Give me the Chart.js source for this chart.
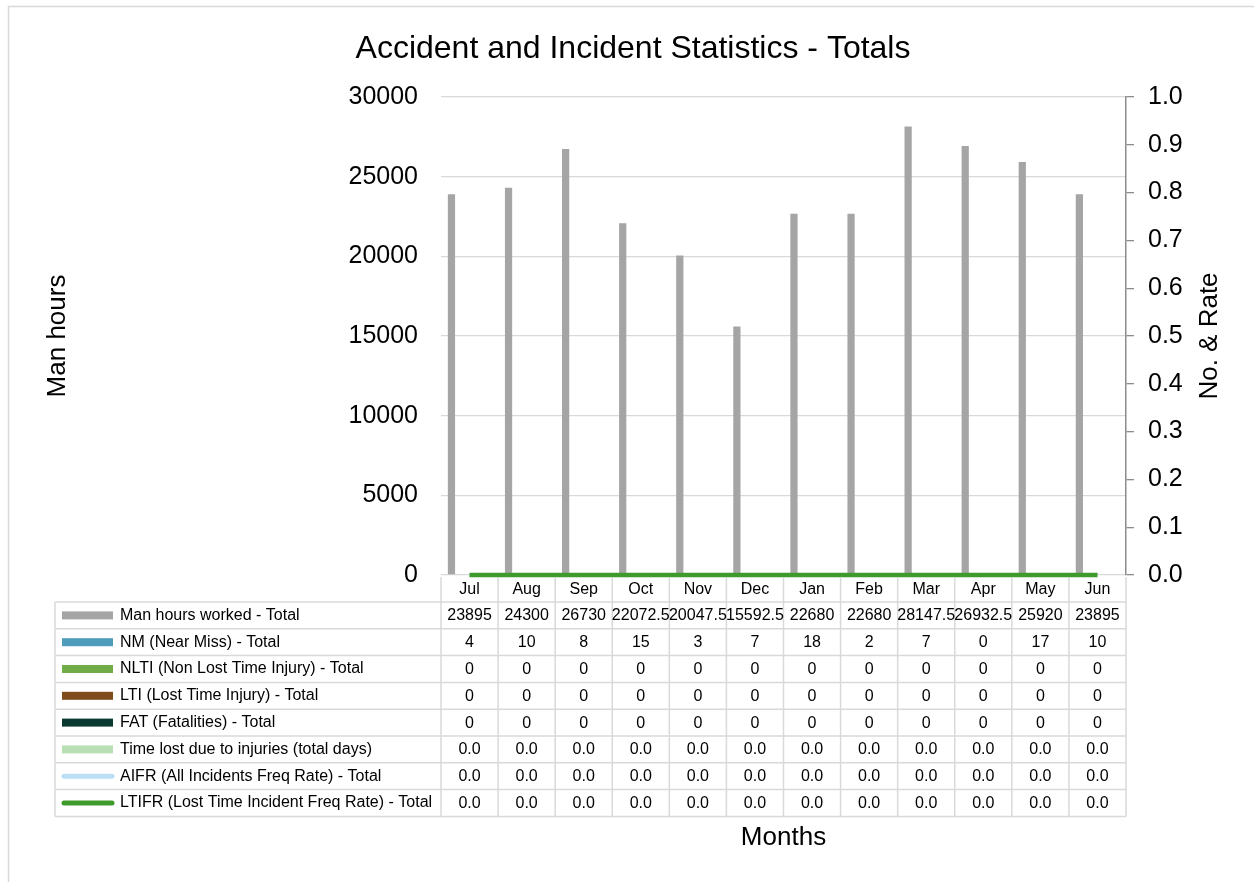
<!DOCTYPE html>
<html>
<head>
<meta charset="utf-8">
<script src="https://cdn.jsdelivr.net/npm/chart.js@4/dist/chart.umd.min.js"></script>
<style>
  html, body { margin: 0; padding: 0; background: #fff; overflow: hidden; }
  canvas { display: block; }
</style>
</head>
<body>
<canvas id="chart" width="1254" height="882"></canvas>
<script>
// chart values
const months = ['Jul', 'Aug', 'Sep', 'Oct', 'Nov', 'Dec', 'Jan', 'Feb', 'Mar', 'Apr', 'May', 'Jun']
const manHours = [23895, 24300, 26730, 22072.5, 20047.5, 15592.5, 22680, 22680, 28147.5, 26932.5, 25920, 23895]
const nearMiss = [4, 10, 8, 15, 3, 7, 18, 2, 7, 0, 17, 10]
const nlti = [0, 0, 0, 0, 0, 0, 0, 0, 0, 0, 0, 0]
const lti = [0, 0, 0, 0, 0, 0, 0, 0, 0, 0, 0, 0]
const fat = [0, 0, 0, 0, 0, 0, 0, 0, 0, 0, 0, 0]
const timeLost = [0, 0, 0, 0, 0, 0, 0, 0, 0, 0, 0, 0]
const aifr = [0, 0, 0, 0, 0, 0, 0, 0, 0, 0, 0, 0]
const ltifr = [0, 0, 0, 0, 0, 0, 0, 0, 0, 0, 0, 0]
const manHourTicks = [0, 5000, 10000, 15000, 20000, 25000, 30000]

const FONT = "'Liberation Sans', Arial, sans-serif"
Chart.defaults.font.family = FONT
Chart.defaults.color = '#000'

const int = v => String(v)
const oneDp = v => v.toFixed(1)

// outer frame, right axis title and the data table under the plot
const dataTable = {
  id: 'dataTable',
  beforeDraw(chart) {
    const ctx = chart.ctx
    ctx.save()
    ctx.strokeStyle = '#d9d9d9'
    ctx.lineWidth = 1.5
    ctx.strokeRect(8.5, 6.5, 1400, 1000)
    ctx.restore()
  },
  afterDraw(chart) {
    const { ctx, chartArea } = chart
    const x = chart.scales.x
    const colW = x.getPixelForValue(1) - x.getPixelForValue(0)
    const headTop = chartArea.bottom + 2
    const rowTop = headTop + 25
    const rowH = 26.8
    const labelLeft = 55
    const sets = chart.data.datasets
    const bottom = rowTop + rowH * sets.length

    ctx.save()
    ctx.strokeStyle = '#d9d9d9'
    ctx.lineWidth = 1.5
    ctx.beginPath()
    for (let r = 0; r <= sets.length; r++) {
      ctx.moveTo(labelLeft, rowTop + r * rowH)
      ctx.lineTo(chartArea.right, rowTop + r * rowH)
    }
    ctx.moveTo(labelLeft, rowTop)
    ctx.lineTo(labelLeft, bottom)
    for (let i = 0; i <= months.length; i++) {
      const xx = chartArea.left + i * colW
      ctx.moveTo(xx, headTop)
      ctx.lineTo(xx, bottom)
    }
    ctx.stroke()

    ctx.fillStyle = '#000'
    ctx.font = '16px ' + FONT
    ctx.textBaseline = 'middle'
    ctx.textAlign = 'center'
    months.forEach((m, i) => {
      ctx.fillText(m, x.getPixelForValue(i), headTop + 13)
    })

    sets.forEach((ds, r) => {
      const cy = rowTop + r * rowH + rowH / 2
      // legend key
      if (ds.type === 'line') {
        ctx.strokeStyle = ds.borderColor
        ctx.lineWidth = 5
        ctx.lineCap = 'round'
        ctx.beginPath()
        ctx.moveTo(64, cy)
        ctx.lineTo(112, cy)
        ctx.stroke()
      } else {
        ctx.fillStyle = ds.keyColor
        ctx.fillRect(62, cy - 4, 51, 8)
      }
      ctx.fillStyle = '#000'
      ctx.textAlign = 'left'
      ctx.fillText(ds.label, 120, cy)
      ctx.textAlign = 'center'
      ds.data.forEach((v, i) => {
        ctx.fillText(ds.fmt(v), x.getPixelForValue(i), cy + 0.5)
      })
    })

    ctx.font = '26px ' + FONT
    ctx.fillText('Months', (chartArea.left + chartArea.right) / 2, 838)

    // right axis title reads bottom to top, like the left one
    const y1 = chart.scales.y1
    ctx.translate(1210, (y1.top + y1.bottom) / 2)
    ctx.rotate(-Math.PI / 2)
    ctx.fillText('No. & Rate', 0, 0)
    ctx.restore()
  }
}

const bar = (label, data, color, axis, fmt, keyColor) => ({
  type: 'bar', label, data, backgroundColor: color, yAxisID: axis,
  fmt, keyColor: keyColor || color, order: 2
})

new Chart(document.getElementById('chart'), {
  data: {
    labels: months,
    datasets: [
      bar('Man hours worked - Total', manHours, '#a5a5a5', 'y', int),
      bar('NM (Near Miss) - Total', nearMiss, 'transparent', 'y1', int, '#4f9bbb'),
      bar('NLTI (Non Lost Time Injury) - Total', nlti, '#70ad47', 'y1', int),
      bar('LTI (Lost Time Injury) - Total', lti, '#7f4a1c', 'y1', int),
      bar('FAT (Fatalities) - Total', fat, '#0b3a31', 'y1', int),
      bar('Time lost due to injuries (total days)', timeLost, '#b8e0b4', 'y1', oneDp),
      {
        type: 'line', label: 'AIFR (All Incidents Freq Rate) - Total', data: aifr,
        borderColor: '#bddff4', borderWidth: 4, pointRadius: 0, yAxisID: 'y1',
        fmt: oneDp, clip: false, order: 1
      },
      {
        type: 'line', label: 'LTIFR (Lost Time Incident Freq Rate) - Total', data: ltifr,
        borderColor: '#3f9a2c', borderWidth: 4.5, pointRadius: 0, yAxisID: 'y1',
        fmt: oneDp, clip: false, order: 0
      }
    ]
  },
  options: {
    responsive: false,
    animation: false,
    layout: { padding: { top: 0, left: 22, right: 10, bottom: 307 } },
    datasets: {
      bar: { categoryPercentage: 0.76, barPercentage: 1 }
    },
    plugins: {
      legend: { display: false },
      tooltip: { enabled: false },
      title: {
        display: true,
        text: 'Accident and Incident Statistics - Totals',
        color: '#000',
        font: { size: 32, weight: 'normal' },
        padding: { top: 30, bottom: 28.6 }
      }
    },
    scales: {
      x: { display: false },
      y: {
        position: 'left',
        min: 0,
        max: 30000,
        afterBuildTicks: s => { s.ticks = manHourTicks.map(v => ({ value: v })) },
        afterFit: s => { s.width = 419 },
        ticks: { font: { size: 25 }, padding: 23, color: '#000', callback: v => String(v) },
        grid: { color: '#d9d9d9', lineWidth: 1.3, drawTicks: false },
        border: { display: false },
        title: { display: true, text: 'Man hours', font: { size: 26 }, padding: { top: 20 }, color: '#000' }
      },
      y1: {
        position: 'right',
        min: 0,
        max: 1,
        ticks: { stepSize: 0.1, font: { size: 25 }, padding: 14, color: '#000', callback: v => v.toFixed(1) },
        grid: { drawOnChartArea: false, color: '#8c8c8c', tickLength: 8, lineWidth: 1.3 },
        border: { color: '#8c8c8c', width: 1.5 },
        afterFit: s => { s.width = 118 }
      }
    }
  },
  plugins: [dataTable]
})
</script>
</body>
</html>
